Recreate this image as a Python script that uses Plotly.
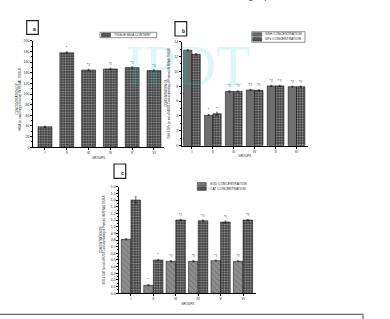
import plotly.graph_objects as go

groups = ["I", "II", "III", "IV", "V", "VI"]

# Panel a: tissue MDA content
mda = [38.5, 177.5, 145, 147, 149.5, 144]
mda_err = [1.2, 1.5, 1.5, 1.5, 1.5, 1.5]
mda_sig = ["", "*", "*#", "*#", "*#", "*#"]

# Panel b: GSH and GPx
gsh = [12.85, 4.1, 7.3, 7.5, 8.05, 7.95]
gsh_err = [0.1, 0.08, 0.08, 0.08, 0.08, 0.08]
gpx = [12.3, 4.3, 7.3, 7.45, 8.05, 7.95]
gpx_err = [0.1, 0.2, 0.08, 0.08, 0.08, 0.08]
b_sig = ["", "*", "*#", "*#", "*#", "*#"]

# Panel c: SOD and CAT
sod = [0.81, 0.12, 0.48, 0.48, 0.49, 0.48]
sod_err = [0.01, 0.01, 0.01, 0.01, 0.01, 0.01]
cat = [1.40, 0.50, 1.10, 1.09, 1.07, 1.10]
cat_err = [0.05, 0.01, 0.01, 0.01, 0.015, 0.01]
c_sig = ["", "*", "*#", "*#", "*#", "*#"]

titles = [
    "CONCENTRATION OF<br>MDA (in nmol /mg of tissue) IN RENAL TISSUE",
    "CONCENTRATION OF<br>GSH & GPx (in mol of NGGG Consumption/mg of Proteins) IN RENAL TISSUE",
    "CONCENTRATION OF<br>SOD & CAT (in mol of H2O2 Consumption/mg of Proteins) IN RENAL TISSUE",
]

W, H = 390, 319
def px(x):
    return x / W
def py(y):
    return 1 - y / H

FONT = "Liberation Sans"
checker = dict(shape=".", fgcolor="#ffffff", bgcolor="#3c3c3c", size=2.6, solidity=0.4)
hatch = dict(shape="\\", fgcolor="#4a4a4a", bgcolor="#8c8c8c", size=4, solidity=0.22)
line = dict(color="black", width=0.5)
tf = dict(size=3.5, family=FONT, color="black")

def err(vals):
    return dict(type="data", array=vals, color="black", thickness=0.5, width=1)

fig = go.Figure()
fig.add_trace(go.Bar(x=groups, y=mda, error_y=err(mda_err), width=0.64, offset=-0.32,
                     marker=dict(color="#3c3c3c", pattern=checker, line=line),
                     text=mda_sig, textposition="outside", textfont=tf, constraintext="none",
                     cliponaxis=False, xaxis="x", yaxis="y", showlegend=False))
fig.add_trace(go.Bar(x=groups, y=gsh, error_y=err(gsh_err), width=0.4, offset=-0.4,
                     marker=dict(color="#6e6e6e", line=line),
                     text=b_sig, textposition="outside", textfont=tf, constraintext="none",
                     cliponaxis=False, xaxis="x2", yaxis="y2", showlegend=False))
fig.add_trace(go.Bar(x=groups, y=gpx, error_y=err(gpx_err), width=0.4, offset=0.0,
                     marker=dict(color="#3c3c3c", pattern=checker, line=line),
                     text=b_sig, textposition="outside", textfont=tf, constraintext="none",
                     cliponaxis=False, xaxis="x2", yaxis="y2", showlegend=False))
fig.add_trace(go.Bar(x=groups, y=sod, error_y=err(sod_err), width=0.43, offset=-0.43,
                     marker=dict(color="#8c8c8c", pattern=hatch, line=line),
                     text=c_sig, textposition="outside", textfont=tf, constraintext="none",
                     cliponaxis=False, xaxis="x3", yaxis="y3", showlegend=False))
fig.add_trace(go.Bar(x=groups, y=cat, error_y=err(cat_err), width=0.43, offset=0.0,
                     marker=dict(color="#3c3c3c", pattern=checker, line=line),
                     text=c_sig, textposition="outside", textfont=tf, constraintext="none",
                     cliponaxis=False, xaxis="x3", yaxis="y3", showlegend=False))

tick_font = dict(size=3.5, family=FONT, color="#222")
title_font = dict(size=3, family=FONT, color="#222")

def xax(dom, anchor, rng):
    return dict(domain=dom, anchor=anchor, range=rng, type="category", categoryorder="array",
                categoryarray=groups, showline=True, linecolor="black", linewidth=0.8,
                ticks="outside", ticklen=2, tickwidth=0.5, tickcolor="black",
                tickfont=tick_font, showgrid=False, zeroline=False,
                title=dict(text="GROUPS", font=title_font, standoff=2), automargin=False)

def yax(dom, anchor, rng, dtick, minor, fmt=None):
    d = dict(domain=dom, anchor=anchor, range=rng, dtick=dtick, tick0=0,
             showline=True, linecolor="black", linewidth=0.8,
             ticks="outside", ticklen=2, tickwidth=0.5, tickcolor="black",
             minor=dict(dtick=minor, ticks="outside", ticklen=1, tickcolor="black", tickwidth=0.4),
             tickfont=tick_font, showgrid=False, zeroline=False, automargin=False)
    if fmt:
        d["tickformat"] = fmt
    return d

fig.update_layout(
    width=W, height=H, margin=dict(l=0, r=0, t=0, b=0),
    paper_bgcolor="white", plot_bgcolor="rgba(0,0,0,0)",
    barmode="overlay", font=dict(family=FONT),
    xaxis=xax([px(33), px(164)], "y", [-0.55, 5.46]),
    yaxis=yax([py(147.3), py(40.7)], "x", [0, 200], 20, 10),
    xaxis2=xax([px(181.7), px(308)], "y2", [-0.49, 5.55]),
    yaxis2=yax([py(145.7), py(41.7)], "x2", [0, 14], 2, 1),
    xaxis3=xax([px(119.3), px(256)], "y3", [-0.52, 5.58]),
    yaxis3=yax([py(293.3), py(186.7)], "x3", [0, 1.6], 0.1, 0.05, ".1f"),
)

shapes = []
annotations = []

# watermark
annotations.append(dict(text="IPDT", x=px(188), y=py(66), xref="paper", yref="paper",
                        xanchor="center", yanchor="middle",
                        showarrow=False, font=dict(size=56, family="Liberation Serif",
                                                   color="rgba(0,215,215,0.15)")))
# cut-off caption at top
annotations.append(dict(text="to each treated group.", x=px(191), y=py(3.5), xref="paper", yref="paper",
                        xanchor="left", yanchor="bottom", showarrow=False,
                        font=dict(size=8, family=FONT, color="#333")))

# rotated y-axis titles
for t, (cx, cy, fs) in zip(titles, [(18.5, 99, 3.0), (166.5, 93, 2.6), (101.5, 240, 2.6)]):
    annotations.append(dict(text=t, x=px(cx), y=py(cy), xref="paper", yref="paper",
                            xanchor="center", yanchor="middle",
                            textangle=-90, showarrow=False, align="center",
                            font=dict(size=fs, family=FONT, color="#222")))

# panel letter boxes
for (x0, x1, y0, y1, letter) in [(26.7, 38.3, 20.7, 34.3, "a"), (175, 186.7, 21.7, 36, "b"),
                                 (114, 125.7, 164, 178.3, "c")]:
    shapes.append(dict(type="rect", xref="paper", yref="paper", x0=px(x0), x1=px(x1),
                       y0=py(y1), y1=py(y0), line=dict(color="#222", width=1.2)))
    annotations.append(dict(text="<b>" + letter + "</b>", x=px(x1 - 3.5), y=py(y1 - 5.5), xref="paper",
                            yref="paper", xanchor="center", yanchor="middle", showarrow=False,
                            font=dict(size=5, family=FONT, color="#111")))

# manual legends
def legend_box(x0, y0, x1, y1):
    shapes.append(dict(type="rect", xref="paper", yref="paper", x0=px(x0), x1=px(x1),
                       y0=py(y1), y1=py(y0), line=dict(color="#444", width=0.6), fillcolor="white"))

def legend_item(x, y, label, color):
    shapes.append(dict(type="rect", xref="paper", yref="paper", x0=px(x), x1=px(x + 9),
                       y0=py(y + 1.8), y1=py(y - 1.8), line=dict(color="black", width=0.4),
                       fillcolor=color))
    annotations.append(dict(text=label, x=px(x + 10.5), y=py(y), xref="paper", yref="paper",
                            xanchor="left", yanchor="middle", showarrow=False,
                            font=dict(size=3.3, family=FONT, color="#222")))

legend_box(100, 32.3, 156.7, 37.7)
legend_item(101.5, 35, "TISSUE MDA CONTENT", "#555555")
legend_box(251.7, 31.7, 305, 42.3)
legend_item(252.7, 34.5, "GSH CONCENTRATION", "#6e6e6e")
legend_item(252.7, 39.3, "GPx CONCENTRATION", "#555555")
legend_item(197.3, 184.3, "SOD CONCENTRATION", "#7a7a7a")
legend_item(197.3, 188.6, "CAT CONCENTRATION", "#555555")

# bottom frame line
shapes.append(dict(type="line", xref="paper", yref="paper", x0=0, x1=px(363), y0=py(314.3), y1=py(314.3),
                   line=dict(color="#444", width=1)))
shapes.append(dict(type="line", xref="paper", yref="paper", x0=px(363), x1=px(363), y0=py(314.3), y1=py(319),
                   line=dict(color="#444", width=1)))

fig.update_layout(shapes=shapes, annotations=annotations)
fig.write_html("out.html")
